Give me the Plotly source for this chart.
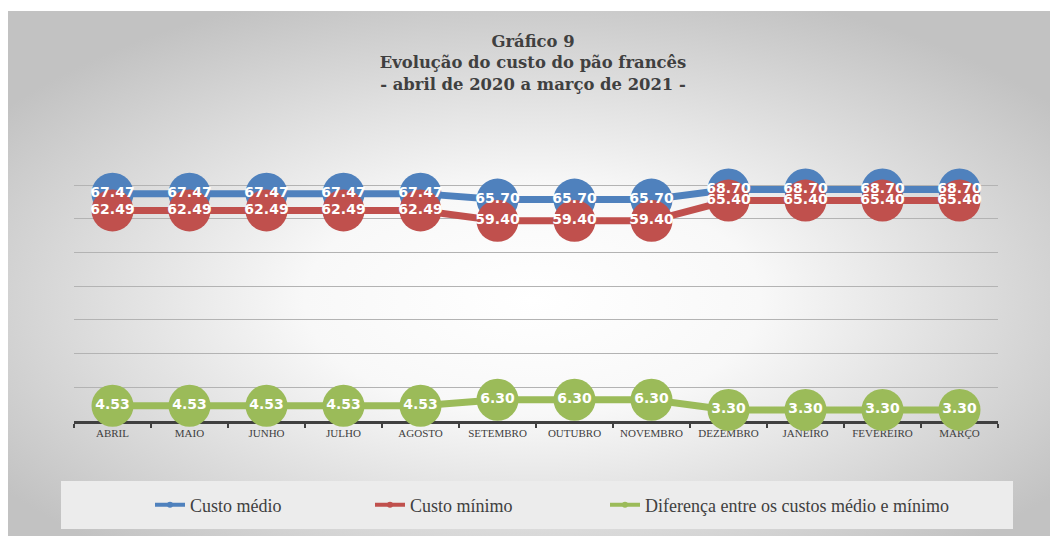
import base64
import plotly.graph_objects as go

months = ["ABRIL", "MAIO", "JUNHO", "JULHO", "AGOSTO", "SETEMBRO", "OUTUBRO",
          "NOVEMBRO", "DEZEMBRO", "JANEIRO", "FEVEREIRO", "MARÇO"]
custo_medio = [67.47, 67.47, 67.47, 67.47, 67.47, 65.70, 65.70, 65.70, 68.70, 68.70, 68.70, 68.70]
custo_minimo = [62.49, 62.49, 62.49, 62.49, 62.49, 59.40, 59.40, 59.40, 65.40, 65.40, 65.40, 65.40]
diferenca = [4.53, 4.53, 4.53, 4.53, 4.53, 6.30, 6.30, 6.30, 3.30, 3.30, 3.30, 3.30]

series = [
    ("Custo médio", custo_medio, "#4f81bd"),
    ("Custo mínimo", custo_minimo, "#c0504d"),
    ("Diferença entre os custos médio e mínimo", diferenca, "#9bbb59"),
]

# page has an 8px body margin, so the figure is sized to fit the 1058x536 window
OFF = 8
W, H = 1058 - OFF, 536 - OFF
ML, MR, MT, MB = 66, 60, 173, 115
PW, PH = W - ML - MR, H - MT - MB
PX_PER_UNIT = 3.37
Y_TOP = PH / PX_PER_UNIT


def px_to_paper_x(px):
    return (px - ML) / PW


def px_to_paper_y(py):
    return (H - MB - py) / PH


fig = go.Figure()

for name, vals, col in series:
    fig.add_trace(go.Scatter(
        x=months, y=vals, mode="lines+markers", name=name, showlegend=False,
        line=dict(color=col, width=7),
        marker=dict(color=col, size=42, line=dict(width=0)),
        cliponaxis=False, hoverinfo="skip",
    ))

for name, vals, col in series:
    fig.add_trace(go.Scatter(
        x=months, y=vals, mode="text", showlegend=False,
        text=[f"{v:.2f}" for v in vals], textposition="middle center",
        textfont=dict(family="DejaVu Sans", size=14, color="white", weight="bold"),
        cliponaxis=False, hoverinfo="skip",
    ))

legend_ids = ["legend", "legend2", "legend3"]
legend_text_x = [182, 402, 637]
for (name, vals, col), lid in zip(series, legend_ids):
    fig.add_trace(go.Scatter(
        x=[None], y=[None], mode="lines+markers", name=name, legend=lid,
        line=dict(color=col, width=4), marker=dict(color=col, size=6),
    ))

svg = (
    "<svg xmlns='http://www.w3.org/2000/svg' width='1051' height='525' "
    "viewBox='0 0 1051 525' preserveAspectRatio='none'>"
    "<defs><radialGradient id='g' cx='50%' cy='55%' r='62%'>"
    "<stop offset='0' stop-color='#ffffff'/>"
    "<stop offset='0.35' stop-color='#f8f8f8'/>"
    "<stop offset='1' stop-color='#c2c2c2'/>"
    "</radialGradient></defs>"
    "<rect width='1051' height='525' fill='url(#g)'/></svg>"
)
src = "data:image/svg+xml;base64," + base64.b64encode(svg.encode()).decode()

fig.add_layout_image(dict(
    source=src, xref="paper", yref="paper",
    x=px_to_paper_x(-1), y=px_to_paper_y(3),
    sizex=(W + 1) / PW, sizey=(H - 3) / PH,
    xanchor="left", yanchor="top", sizing="stretch", layer="below",
))

fig.add_shape(
    type="rect", xref="paper", yref="paper",
    x0=px_to_paper_x(53), x1=px_to_paper_x(1005),
    y0=px_to_paper_y(521), y1=px_to_paper_y(473),
    fillcolor="#ececec", line=dict(width=0), layer="below",
)

legend_common = dict(
    orientation="h", xref="container", yref="container",
    xanchor="left", y=1 - 497 / H, yanchor="middle",
    font=dict(family="Liberation Serif", size=18, color="#404040"),
    bgcolor="rgba(0,0,0,0)",
)
legend_layouts = {}
for lid, tx in zip(legend_ids, legend_text_x):
    legend_layouts[lid] = dict(legend_common, x=(tx - 40) / W)

fig.update_layout(
    width=W, height=H,
    margin=dict(l=ML, r=MR, t=MT, b=MB, autoexpand=False),
    paper_bgcolor="white", plot_bgcolor="rgba(0,0,0,0)",
    title=dict(
        text="Gráfico 9<br>Evolução do custo do pão francês<br>- abril de 2020 a março de 2021 -",
        x=525 / W, xref="container", xanchor="center",
        y=1 - 39 / H, yref="container", yanchor="top",
        font=dict(family="DejaVu Serif", size=16.4, color="#404040", weight="bold"),
        automargin=False,
    ),
    xaxis=dict(
        type="category", range=[-0.5, len(months) - 0.5],
        showgrid=False, showline=True, linecolor="#404040", linewidth=2.5,
        ticks="outside", ticklen=4, tickcolor="#404040", tickwidth=1.5,
        tickson="boundaries", layer="below traces", tickangle=0, automargin=False,
        tickfont=dict(family="Liberation Serif", size=11, color="#404040"),
        fixedrange=True,
    ),
    yaxis=dict(
        range=[0, Y_TOP], tickmode="array", tickvals=[0, 10, 20, 30, 40, 50, 60, 70],
        showticklabels=False, showgrid=True, automargin=False,
        gridcolor="#b3b3b3", gridwidth=1, zeroline=False, showline=False,
        fixedrange=True,
    ),
    **legend_layouts,
)

fig.write_html("out.html")
